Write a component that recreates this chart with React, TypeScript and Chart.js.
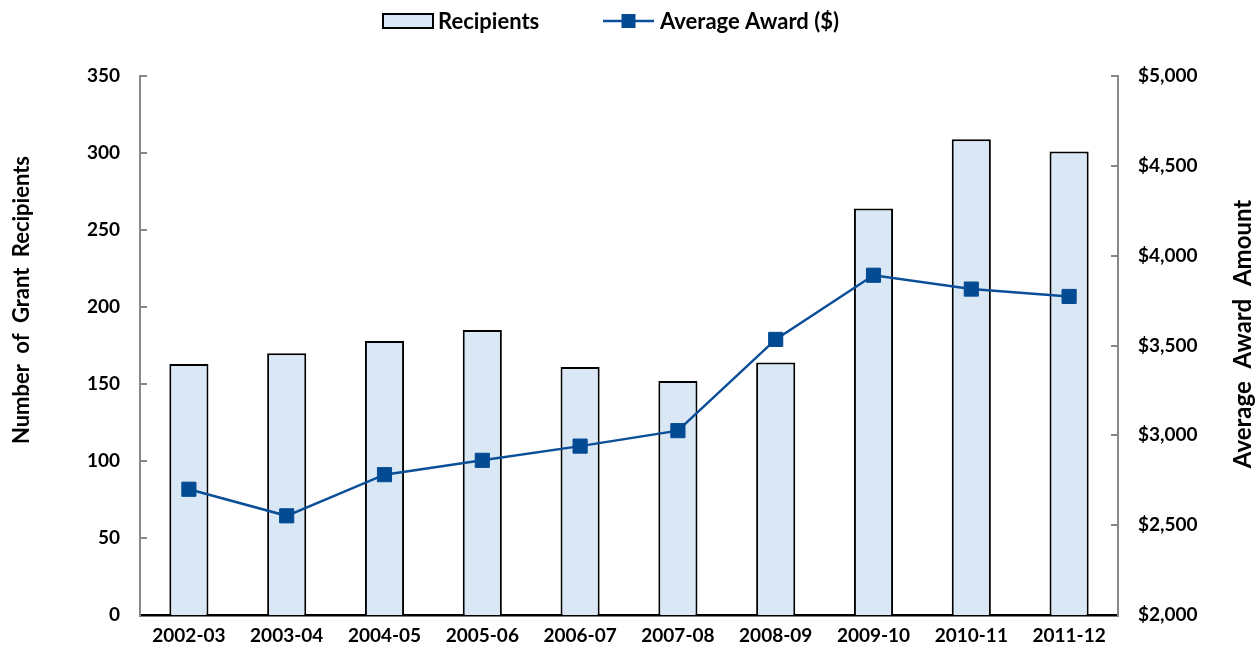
import React, { useEffect, useRef } from 'react';
import { Chart, registerables } from 'chart.js';

Chart.register(...registerables);

// ---- Data ----
const categories = ['2002-03', '2003-04', '2004-05', '2005-06', '2006-07', '2007-08', '2008-09', '2009-10', '2010-11', '2011-12'];
const recipients = [163, 170, 178, 185, 161, 152, 164, 264, 309, 301];
const averageAward = [2700, 2552, 2781, 2861, 2940, 3026, 3534, 3891, 3814, 3773];
const leftTickValues = [0, 50, 100, 150, 200, 250, 300, 350];
const rightTickValues = [2000, 2500, 3000, 3500, 4000, 4500, 5000];
const legendLabels = ['Recipients', 'Average Award ($)'];
const leftTitle = 'Number of Grant Recipients';
const rightTitle = 'Average Award Amount';

// ---- Styles ----
const FONT = 'Lato, "Open Sans", sans-serif';
const BAR_FILL = '#DAE8F6';
const BAR_BORDER = '#000000';
const LINE_COLOR = '#0B4F98';
const MARKER_COLOR = '#024A92';
const AXIS_GRAY = '#878787';

const W = 1260;
const H = 651;

const decorPlugin = {
  id: 'decor',
  afterDraw(chart: any) {
    const ctx: CanvasRenderingContext2D = chart.ctx;
    const area = chart.chartArea;
    const ys = chart.scales.y;
    const y1 = chart.scales.y1;
    ctx.save();
    // inside tick marks
    ctx.strokeStyle = AXIS_GRAY;
    ctx.lineWidth = 2;
    leftTickValues.forEach((v) => {
      if (v === 0) return;
      const py = Math.round(ys.getPixelForValue(v));
      ctx.beginPath();
      ctx.moveTo(area.left, py);
      ctx.lineTo(area.left + 7, py);
      ctx.stroke();
    });
    rightTickValues.forEach((v) => {
      if (v === 2000) return;
      const py = Math.round(y1.getPixelForValue(v));
      ctx.beginPath();
      ctx.moveTo(area.right, py);
      ctx.lineTo(area.right - 7, py);
      ctx.stroke();
    });

    // axis titles
    ctx.fillStyle = '#000';
    ctx.textAlign = 'center';
    ctx.textBaseline = 'middle';
    ctx.save();
    ctx.font = `bold 22px ${FONT}`;
    (ctx as any).wordSpacing = '5px';
    ctx.translate(22, 300);
    ctx.rotate(-Math.PI / 2);
    ctx.fillText(leftTitle, 0, 0);
    ctx.restore();
    ctx.save();
    ctx.font = `bold 24px ${FONT}`;
    (ctx as any).wordSpacing = '7px';
    ctx.translate(1243, 334);
    ctx.rotate(-Math.PI / 2);
    ctx.fillText(rightTitle, 0, 0);
    ctx.restore();

    // legend
    const ly = 21;
    ctx.font = `bold 22px ${FONT}`;
    ctx.textAlign = 'left';
    ctx.textBaseline = 'middle';
    ctx.fillStyle = BAR_FILL;
    ctx.fillRect(383, 14, 50, 14);
    ctx.strokeStyle = BAR_BORDER;
    ctx.lineWidth = 2;
    ctx.strokeRect(383, 14, 50, 14);
    ctx.fillStyle = '#000';
    ctx.fillText(legendLabels[0], 438, ly + 1);

    ctx.strokeStyle = LINE_COLOR;
    ctx.lineWidth = 2.5;
    ctx.beginPath();
    ctx.moveTo(603, ly);
    ctx.lineTo(654, ly);
    ctx.stroke();
    ctx.fillStyle = MARKER_COLOR;
    ctx.fillRect(621.5, ly - 7, 14, 14);
    ctx.fillStyle = '#000';
    ctx.fillText(legendLabels[1], 660, ly + 1);
    ctx.restore();
  },
};

export default function App() {
  const ref = useRef<HTMLCanvasElement | null>(null);

  useEffect(() => {
    if (!ref.current) return;
    const tickFont = { family: FONT, size: 19, weight: 'bold' as const };
    const chart = new Chart(ref.current, {
      type: 'bar',
      data: {
        labels: categories,
        datasets: [
          {
            type: 'line',
            label: legendLabels[1],
            data: averageAward,
            yAxisID: 'y1',
            borderColor: LINE_COLOR,
            borderWidth: 2.5,
            backgroundColor: MARKER_COLOR,
            pointStyle: 'rect',
            pointRadius: 10,
            pointBorderWidth: 1,
            pointBorderColor: MARKER_COLOR,
            pointBackgroundColor: MARKER_COLOR,
            tension: 0,
            order: 1,
          } as any,
          {
            type: 'bar',
            label: legendLabels[0],
            data: recipients,
            yAxisID: 'y',
            backgroundColor: BAR_FILL,
            borderColor: BAR_BORDER,
            borderWidth: 2,
            barPercentage: 0.4,
            categoryPercentage: 1.0,
            order: 2,
          } as any,
        ],
      },
      options: {
        animation: false,
        responsive: false,
        maintainAspectRatio: false,
        devicePixelRatio: 1,
        layout: { padding: { top: 76, left: 0, right: 0, bottom: 0 } },
        plugins: {
          legend: { display: false },
          tooltip: { enabled: false },
        },
        scales: {
          x: {
            offset: true,
            grid: { display: false, drawTicks: false },
            border: { display: true, color: '#000', width: 2.5 },
            ticks: { color: '#000', font: tickFont, padding: 9, maxRotation: 0, autoSkip: false },
            afterFit: (s: any) => { s.height = H - 615; },
          },
          y: {
            position: 'left',
            min: 0,
            max: 350,
            grid: { display: false, drawTicks: false },
            border: { display: true, color: AXIS_GRAY, width: 2 },
            ticks: { stepSize: 50, color: '#000', font: tickFont, padding: 20 },
            afterFit: (s: any) => { s.width = 140; },
          },
          y1: {
            position: 'right',
            min: 2000,
            max: 5000,
            grid: { display: false, drawTicks: false },
            border: { display: true, color: AXIS_GRAY, width: 2 },
            ticks: {
              stepSize: 500,
              color: '#000',
              font: tickFont,
              padding: 20,
              callback: (v: any) => '$' + Number(v).toLocaleString('en-US'),
            },
            afterFit: (s: any) => { s.width = W - 1118; },
          },
        },
      },
      plugins: [decorPlugin],
    });
    return () => chart.destroy();
  }, []);

  return (
    <div style={{ position: 'fixed', left: 0, top: 0, width: W, height: H, background: '#fff' }}>
      <canvas ref={ref} width={W} height={H} style={{ width: W, height: H, display: 'block' }} />
    </div>
  );
}
